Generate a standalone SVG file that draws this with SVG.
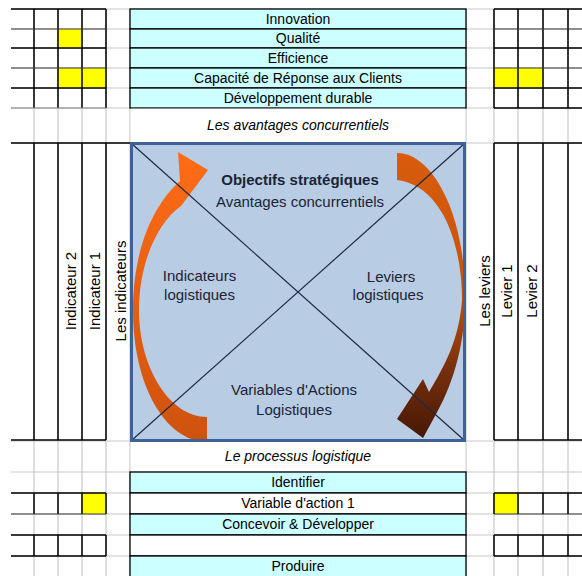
<svg xmlns="http://www.w3.org/2000/svg" width="582" height="576" viewBox="0 0 582 576">
<defs>
<linearGradient id="gL" x1="0" y1="0" x2="0" y2="1">
<stop offset="0" stop-color="#FF6C16"/><stop offset="1" stop-color="#CE520E"/>
</linearGradient>
<linearGradient id="gR" x1="0" y1="0" x2="0" y2="1">
<stop offset="0" stop-color="#DA5C0C"/><stop offset="0.5" stop-color="#C4520C"/><stop offset="0.75" stop-color="#7A300C"/><stop offset="1" stop-color="#451805"/>
</linearGradient>
</defs>
<style>
.g{stroke:#C8C8C8;stroke-width:1.2;fill:none}
.b{stroke:#000;stroke-width:1.5;fill:none}
.bt{stroke:#3A3A3A;stroke-width:1.1;fill:none}
.bl{stroke:#808080;stroke-width:1.1;fill:none}
.c{fill:#CCFFFF;stroke:#000;stroke-width:1.3}
.w{fill:#FFFFFF;stroke:#000;stroke-width:1.3}
.y{fill:#FFFF00}
.t{font-family:"Liberation Sans",Arial,sans-serif;font-size:14px;fill:#000;text-anchor:middle}
.i{font-style:italic}
.v{font-family:"Liberation Sans",Arial,sans-serif;font-size:15px;fill:#000;text-anchor:middle}
.bx{font-family:"Liberation Sans",Arial,sans-serif;font-size:15px;fill:#1B2435;text-anchor:middle}
</style>
<rect x="0" y="0" width="582" height="576" fill="#FFFFFF"/>
<g id="grid">
<path class="g" d="M34 9V576M58 9V576M82 9V576M106 9V576M130 9V576M466 9V576M494 9V576M518 9V576M543 9V576M568 9V576"/>
<path class="g" d="M11 9H582M11 29H582M11 48H582M11 68H582M11 88H582M11 108H582M11 143H582M11 441H582M11 472H582M11 493H582M11 514H582M11 535H582M11 556H582"/>
<rect class="y" x="58" y="29" width="24" height="19"/>
<rect class="y" x="58" y="68" width="24" height="20"/>
<rect class="y" x="82" y="68" width="24" height="20"/>
<rect class="y" x="494" y="68" width="24" height="20"/>
<rect class="y" x="518" y="68" width="25" height="20"/>
<rect class="y" x="82" y="493" width="24" height="21"/>
<rect class="y" x="494" y="493" width="24" height="21"/>
<path class="b" d="M11 9H106M11 48H106M11 88H106M34 9V108M58 9V108M82 9V108M106 9V108"/>
<path class="bt" d="M11 29H106M11 68H106"/>
<path class="bl" d="M11 108H106"/>
<path class="b" d="M494 9H582M494 48H582M494 88H582M494 108H582M494 9V108M518 9V108M543 9V108M568 9V108"/>
<path class="bt" d="M494 29H582M494 68H582"/>
<path class="b" d="M11 143H130M11 440H106M34 143V440M58 143V440M82 143V440M106 143V440"/>
<path class="b" d="M494 143H582M494 440H582M494 143V440M518 143V440M543 143V440M568 143V440"/>
<path class="b" d="M11 493H106M11 535H106M11 556H106M34 493V514M58 493V514M82 493V514M106 493V514M34 535V556M58 535V556M82 535V556M106 535V556"/>
<path class="bt" d="M11 514H106M494 514H582"/>
<path class="b" d="M494 493H582M494 535H582M494 556H582M494 493V514M518 493V514M543 493V514M568 493V514M494 535V556M518 535V556M543 535V556M568 535V556"/>
</g>
<g id="row-innovation"><rect class="c" x="130" y="9" width="336" height="20"/><text class="t" x="298" y="24">Innovation</text></g>
<g id="row-qualite"><rect class="c" x="130" y="29" width="336" height="19"/><text class="t" x="298" y="43">Qualité</text></g>
<g id="row-efficience"><rect class="c" x="130" y="48" width="336" height="20"/><text class="t" x="298" y="63">Efficience</text></g>
<g id="row-capacite"><rect class="c" x="130" y="68" width="336" height="20"/><text class="t" x="298" y="83">Capacité de Réponse aux Clients</text></g>
<g id="row-developpement"><rect class="c" x="130" y="88" width="336" height="20"/><text class="t" x="298" y="103">Développement durable</text></g>
<g id="label-avantages"><rect x="130.7" y="108.7" width="334.6" height="33.6" fill="#FFFFFF"/><text class="t i" x="298" y="130">Les avantages concurrentiels</text></g>
<g id="matrix">
<rect x="131.5" y="143.5" width="333" height="297" fill="#B8CCE4"/>
<g id="connectors">
<path d="M207 442C165 441 133 385 133 310C133 250 153 205 180 181L178 152L208 170L181 206C158 222 139 262 139 310C139 368 170 417 207 417Z" fill="url(#gL)"/>
<path d="M397 153C430 152 466 210 465 300C465 350 450 390 435 416L423 438L397 419L423 379L429 392C445 365 459 340 462 300C462 240 440 185 397 180Z" fill="url(#gR)"/>
</g>
<path d="M131.5 143.5L464.5 440.5M464.5 143.5L131.5 440.5" stroke="#1C2B45" stroke-width="1.2" fill="none"/>
<rect x="131.5" y="143.5" width="333" height="297" fill="none" stroke="#3E6296" stroke-width="3"/>
<text class="bx" x="300" y="185" font-weight="bold">Objectifs stratégiques</text>
<text class="bx" x="300" y="207">Avantages concurrentiels</text>
<text class="bx" x="199.5" y="281">Indicateurs</text>
<text class="bx" x="199.5" y="300">logistiques</text>
<text class="bx" x="391" y="282">Leviers</text>
<text class="bx" x="388" y="300">logistiques</text>
<text class="bx" x="294" y="395">Variables d'Actions</text>
<text class="bx" x="294" y="415">Logistiques</text>
</g>
<g id="col-indicateur2"><text class="v" transform="translate(76 291) rotate(-90)">Indicateur 2</text></g>
<g id="col-indicateur1"><text class="v" transform="translate(100 291) rotate(-90)">Indicateur 1</text></g>
<g id="col-indicateurs"><text class="v" transform="translate(126 291) rotate(-90)">Les indicateurs</text></g>
<g id="col-leviers"><text class="v" transform="translate(490 291) rotate(-90)">Les leviers</text></g>
<g id="col-levier1"><text class="v" transform="translate(512 291) rotate(-90)">Levier 1</text></g>
<g id="col-levier2"><text class="v" transform="translate(537 291) rotate(-90)">Levier 2</text></g>
<g id="label-processus"><rect x="130.7" y="442.5" width="334.6" height="28.8" fill="#FFFFFF"/><text class="t i" x="298" y="461">Le processus logistique</text></g>
<g id="row-identifier"><rect class="c" x="130" y="472" width="336" height="21"/><text class="t" x="298" y="487">Identifier</text></g>
<g id="row-variable"><rect class="w" x="130" y="493" width="336" height="21"/><text class="t" x="298" y="508">Variable d'action 1</text></g>
<g id="row-concevoir"><rect class="c" x="130" y="514" width="336" height="21"/><text class="t" x="298" y="529">Concevoir &amp; Développer</text></g>
<g id="row-empty"><rect class="w" x="130" y="535" width="336" height="21"/></g>
<g id="row-produire"><rect class="c" x="130" y="556" width="336" height="22"/><text class="t" x="298" y="571">Produire</text></g>
</svg>
